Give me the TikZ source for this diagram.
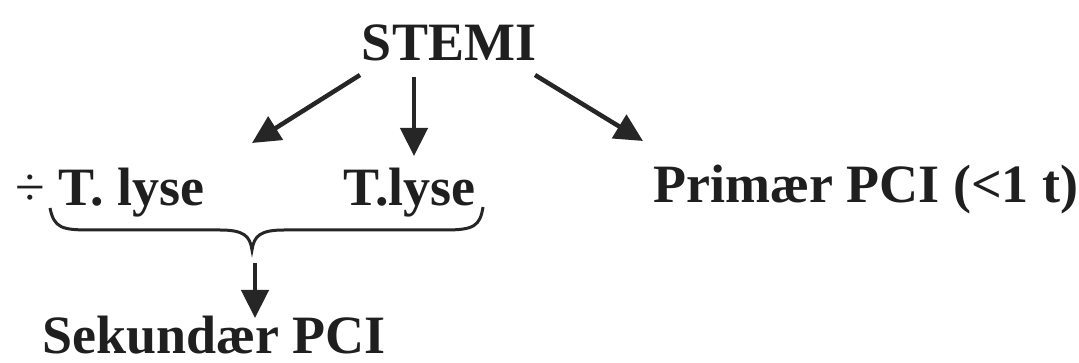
\documentclass[tikz,border=0pt]{standalone}
\usepackage{fontspec}
\setmainfont{Liberation Serif}
\usetikzlibrary{arrows.meta}
\begin{document}
\begin{tikzpicture}[x=1pt,y=-1pt,
  lbl/.style={font=\fontsize{54}{60}\selectfont\bfseries, inner sep=0pt, anchor=base west, text=black!88},
  arr/.style={line width=4.5pt, draw=black!85, -{Triangle[length=28pt,width=27pt]}},
  bracestyle/.style={line width=3pt, draw=black!85}]
\useasboundingbox (0,0) rectangle (1079,363);
\node[lbl, anchor=base] (stemi) at (449,61) {STEMI};
\node[lbl] (nolyse) at (15,206) {{\mdseries ÷} T. lyse};
\node[lbl] (lyse) at (343,206) {T.lyse};
\node[lbl] (prim) at (653,203) {Primær PCI (<1 t)};
\node[lbl] (sek) at (42,353) {Sekundær PCI};
\coordinate (s1) at (360,75);
\coordinate (t1) at (252,143);
\coordinate (s2) at (414,77);
\coordinate (t2) at (414,156);
\coordinate (s3) at (535,75);
\coordinate (t3) at (643,141);
\coordinate (bl) at (50,208);
\coordinate (btip) at (252,250);
\coordinate (br) at (483,207);
\coordinate (s4) at (255,263);
\coordinate (t4) at (255,318);
\draw[arr] (s1) -- (t1);
\draw[arr] (s2) -- (t2);
\draw[arr] (s3) -- (t3);
\draw[arr] (s4) -- (t4);
\draw[bracestyle] (bl) .. controls (54,228) and (62,230) .. (90,230) -- (220,230)
  .. controls (244,230) and (250,236) .. (btip)
  .. controls (254,236) and (260,230) .. (284,230) -- (445,230)
  .. controls (474,230) and (480,226) .. (br);
\end{tikzpicture}
\end{document}
